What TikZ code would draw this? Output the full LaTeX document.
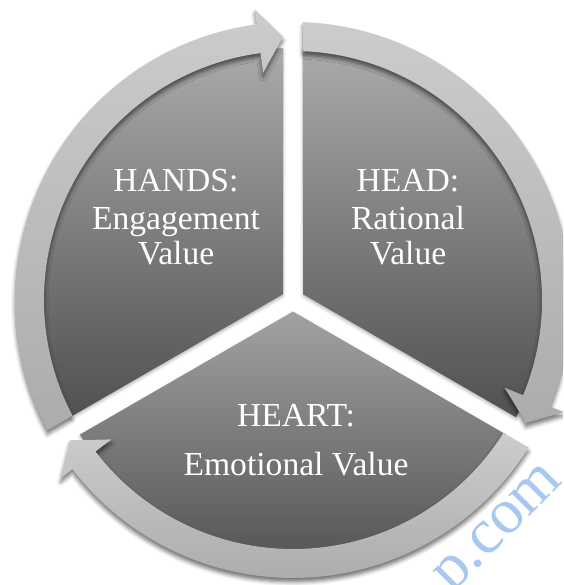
\documentclass[tikz,border=0pt]{standalone}
\usepackage{fontspec}
\setmainfont{Liberation Serif}
\usetikzlibrary{shadows.blur}
\definecolor{wmblue}{RGB}{168,200,240}
\definecolor{secTop}{RGB}{170,170,170}
\definecolor{secBot}{RGB}{80,80,80}
\definecolor{hrtTop}{RGB}{162,162,162}
\definecolor{hrtBot}{RGB}{76,76,76}
\definecolor{ringTop}{RGB}{204,204,204}
\definecolor{ringBot}{RGB}{172,172,172}
\tikzset{
  sector/.style={top color=secTop, bottom color=secBot, draw=none,
    blur shadow={shadow xshift=0pt, shadow yshift=-2pt, shadow blur radius=3pt, shadow opacity=30}},
  heartsector/.style={sector, top color=hrtTop, bottom color=hrtBot},
  ringseg/.style={top color=ringTop, bottom color=ringBot, draw=none,
    blur shadow={shadow xshift=0pt, shadow yshift=-4pt, shadow blur radius=4pt, shadow opacity=55}},
  lbl/.style={text=white, font=\fontsize{33.6}{37}\selectfont, anchor=base, inner sep=0pt},
  watermark/.style={text=wmblue, font=\fontsize{64}{70}\selectfont, anchor=base west, rotate=45, inner sep=0pt}
}
\begin{document}
\begin{tikzpicture}[x=1pt,y=1pt]
\useasboundingbox (0,0) rectangle (563,585);
\clip (0,0) rectangle (563,585);
\node[watermark] (wm) at (452,-9) {p.com};
\begin{scope}[shift={(293,285)}]
  % sectors
  \path[sector] (150:11.547) -- (207.73:252) arc[start angle=207.73, end angle=92.27, radius=252] -- cycle;
  \path[sector] (30:11.547) -- (87.73:252) arc[start angle=87.73, end angle=-27.73, radius=252] -- cycle;
  \path[heartsector] (-90:11.547) -- (-32.27:252) arc[start angle=-32.27, end angle=-147.73, radius=252] -- cycle;
  % ring arrows
  \path[ringseg] (207.94:278) arc[start angle=207.94, end angle=97.5, radius=278]
     -- (97.5:293) -- (92.17:263.5) -- (97.5:229) -- (97.5:249)
     arc[start angle=97.5, end angle=207.70, radius=249] -- cycle;
  \path[ringseg] (87.94:278) arc[start angle=87.94, end angle=-22.5, radius=278]
     -- (-22.5:293) -- (-27.83:263.5) -- (-22.5:229) -- (-22.5:249)
     arc[start angle=-22.5, end angle=87.70, radius=249] -- cycle;
  \path[ringseg] (-32.06:278) arc[start angle=-32.06, end angle=-142.5, radius=278]
     -- (-142.5:293) -- (-147.83:263.5) -- (-142.5:229) -- (-142.5:249)
     arc[start angle=-142.5, end angle=-32.30, radius=249] -- cycle;
\end{scope}
% labels
\node[lbl] (hands1) at (176,393) {HANDS:};
\node[lbl] (hands2) at (176,355.5) {Engagement};
\node[lbl] (hands3) at (176,320) {Value};
\node[lbl] (head1) at (408,393) {HEAD:};
\node[lbl] (head2) at (408,355.5) {Rational};
\node[lbl] (head3) at (408,320) {Value};
\node[lbl] (heart1) at (296,158) {HEART:};
\node[lbl] (heart2) at (296,109) {Emotional Value};
\end{tikzpicture}
\end{document}
